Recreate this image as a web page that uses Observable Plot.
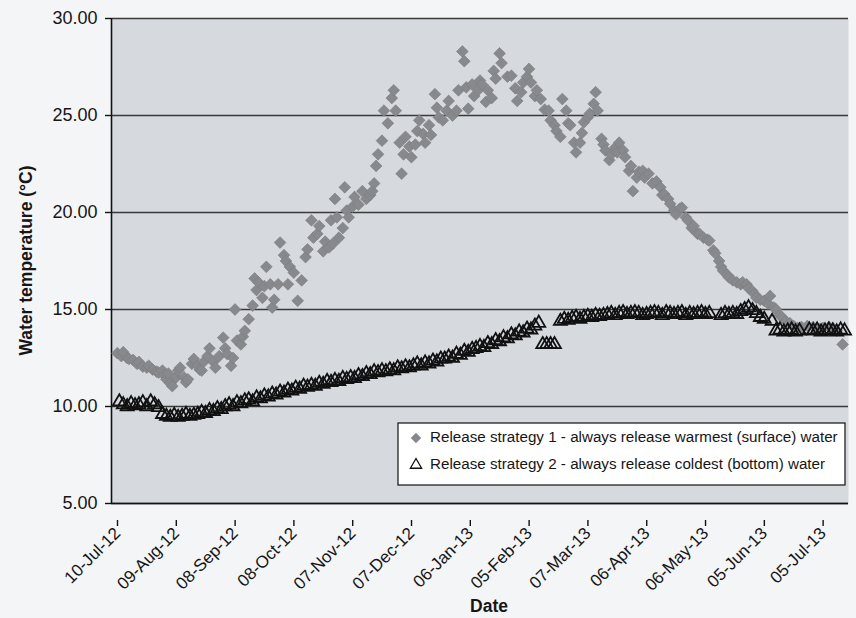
<!DOCTYPE html>
<html><head><meta charset="utf-8">
<script src="https://cdn.jsdelivr.net/npm/d3@7"></script>
<script src="https://cdn.jsdelivr.net/npm/@observablehq/plot@0.6"></script>
<style>
html,body{margin:0;padding:0;background:#f4f5f7;}
#chart{width:856px;height:618px;position:relative;}
</style></head><body><div id="chart"></div>
<script>
// ---------- data ----------
const startDate = "2012-07-10";
const endDate = "2013-07-21";
const tickLabels = ["10-Jul-12","09-Aug-12","08-Sep-12","08-Oct-12","07-Nov-12","07-Dec-12","06-Jan-13","05-Feb-13","07-Mar-13","06-Apr-13","06-May-13","05-Jun-13","05-Jul-13"];
const yTicks = [5, 10, 15, 20, 25, 30];
const seriesNames = [
  "Release strategy 1 - always release warmest (surface) water",
  "Release strategy 2 - always release coldest (bottom) water"
];
const yLabel = "Water temperature (°C)";
const xLabel = "Date";

// Strategy 1 (days after 10-Jul-12, temperature)
const s1Days = [3,5,6,8,9,11,13,14,16,18,19,21,23,24,26,27,28,29,30,31,33,34,35,37,38,39,41,42,44,45,46,47,49,50,52,53,55,57,58,59,61,62,63,64,66,67,68,70,72,73,74,75,77,78,79,81,82,83,85,86,88,89,90,91,93,95,97,99,100,102,103,105,106,108,109,111,112,113,114,115,116,118,119,120,121,123,124,126,128,130,132,133,134,135,136,138,139,141,143,144,145,147,148,149,150,152,153,155,156,157,159,160,162,163,165,166,167,169,171,172,174,176,177,179,180,181,182,184,185,187,188,189,191,192,194,195,196,198,199,202,204,206,207,209,210,212,213,214,216,217,219,221,223,224,226,227,229,230,232,233,234,236,237,239,240,241,243,244,246,247,248,250,251,252,254,255,257,258,259,261,262,264,265,266,268,269,271,272,274,276,278,280,281,282,284,285,287,288,290,291,293,294,296,297,299,300,302,304,305,307,308,310,311,312,314,315,317,319,321,322,324,325,327,328,329,331,333,335,336,338,339,341,342,344,346,348,350,352,355,358,361,363,366,368,370,373];
const s1Temps = [12.75,12.6,12.8,12.5,12.45,12.4,12.2,12.3,12.05,12.0,12.1,11.9,11.8,11.75,11.85,11.6,11.4,11.7,11.2,11.05,11.5,11.85,12.0,11.5,11.25,11.4,12.2,12.45,12.1,11.9,11.85,12.3,12.6,13.0,12.3,12.0,12.6,13.55,13.0,12.7,12.1,12.5,15.0,13.4,13.2,13.6,13.9,14.5,15.2,16.6,16.0,16.4,15.6,16.2,17.2,16.3,15.1,15.5,16.3,18.45,17.8,17.5,16.3,17.2,16.9,15.45,16.5,17.7,18.1,19.6,18.7,18.9,19.3,18.0,18.5,18.2,19.6,18.4,20.7,19.75,18.7,19.2,21.3,20.1,19.75,20.3,20.8,20.4,21.1,20.7,20.9,21.1,21.5,22.4,23.0,23.7,25.25,24.6,25.9,26.3,25.25,23.6,22.0,23.0,23.9,23.4,22.85,23.5,24.2,24.75,24.05,23.6,24.5,24.0,26.1,25.4,24.9,24.75,25.25,25.75,25.0,25.25,26.3,28.3,27.8,26.45,25.35,26.6,26.0,26.3,26.8,26.6,25.7,26.3,25.9,27.3,26.9,28.2,27.7,27.0,27.05,26.4,25.75,26.2,26.7,27.0,27.4,26.7,26.0,26.3,25.85,25.3,25.25,24.75,24.5,24.2,23.9,25.85,25.25,24.6,24.5,23.6,23.1,23.6,24.1,24.65,24.9,25.1,25.6,26.2,25.25,23.8,23.5,23.2,22.7,23.0,23.35,23.1,23.6,23.2,22.85,22.15,22.4,21.1,21.8,22.1,22.15,21.8,22.0,21.5,21.6,21.3,20.9,20.95,20.7,20.45,20.1,19.9,20.2,20.25,19.75,19.6,19.2,19.3,18.9,18.9,18.7,18.6,18.55,18.05,17.9,17.5,17.2,17.0,16.8,16.65,16.5,16.4,16.3,16.4,16.3,16.1,15.95,15.8,15.6,15.5,15.45,15.3,15.7,15.1,15.0,14.7,14.6,14.4,14.3,14.15,14.05,14.1,14.15,14.1,14.0,14.05,14.1,14.05,13.9,13.2];

// Strategy 2 (days after 10-Jul-12, temperature)
const s2Days = [4,6,8,10,12,14,16,18,20,22,24,26,28,30,32,34,36,38,40,42,44,46,48,50,52,54,56,58,60,62,64,66,68,70,72,74,76,78,80,82,84,86,88,90,92,94,96,98,100,102,104,106,108,110,112,114,116,118,120,122,124,126,128,130,132,134,136,138,140,142,144,146,148,150,152,154,156,158,160,162,164,166,168,170,172,174,176,178,180,182,184,186,188,190,192,194,196,198,200,202,204,206,208,210,212,214,216,218,220,222,224,226,229,231,233,235,237,239,241,243,245,247,249,251,253,255,257,259,261,263,265,267,269,271,273,275,277,279,281,283,285,287,289,291,293,295,297,299,301,303,305,311,313,315,317,319,321,323,325,327,329,331,333,337,339,341,343,345,347,349,351,356,358,360,362,364,366,368,370,372,374];
const s2Temps = [10.25,10.1,10.0,10.15,10.05,10.1,10.2,10.0,10.25,10.1,9.95,9.6,9.5,9.45,9.55,9.45,9.5,9.6,9.5,9.55,9.6,9.7,9.65,9.8,9.75,9.9,9.85,10.0,10.1,10.0,10.2,10.15,10.3,10.35,10.25,10.45,10.4,10.55,10.5,10.65,10.6,10.75,10.7,10.85,10.8,10.95,10.9,11.05,11.0,11.1,11.05,11.2,11.15,11.3,11.25,11.35,11.3,11.45,11.4,11.5,11.45,11.6,11.55,11.7,11.65,11.8,11.75,11.85,11.8,11.9,11.85,12.0,11.95,12.05,12.0,12.1,12.2,12.1,12.25,12.2,12.35,12.3,12.45,12.45,12.55,12.5,12.7,12.65,12.85,12.8,12.95,13.0,13.1,13.05,13.25,13.2,13.4,13.35,13.55,13.5,13.7,13.65,13.85,13.8,14.0,13.95,14.15,14.3,13.2,13.2,13.2,13.2,14.4,14.5,14.45,14.55,14.6,14.5,14.6,14.65,14.6,14.7,14.65,14.7,14.75,14.8,14.7,14.8,14.85,14.75,14.8,14.85,14.8,14.7,14.75,14.8,14.85,14.8,14.7,14.85,14.8,14.75,14.8,14.85,14.7,14.8,14.75,14.8,14.85,14.75,14.8,14.7,14.8,14.75,14.8,14.75,14.9,15.0,15.1,14.95,14.8,14.6,14.5,14.4,13.9,13.95,13.85,13.9,13.95,13.85,13.9,13.95,13.9,13.95,13.85,13.9,13.95,13.9,13.85,13.95,13.9,13.9];

// ---------- build ----------
const parseISO = d3.utcParse("%Y-%m-%d");
const parseTick = d3.utcParse("%d-%b-%y");
const t0 = parseISO(startDate);
const t1 = parseISO(endDate);
const tickDates = tickLabels.map(parseTick);
const s1 = s1Days.map((d, i) => ({date: d3.utcDay.offset(t0, d), temp: s1Temps[i]}));
const s2 = s2Days.map((d, i) => ({date: d3.utcDay.offset(t0, d), temp: s2Temps[i]}));

const FONT = "'Liberation Sans', Arial, sans-serif";
const W = 856, H = 618, ML = 111, MT = 18, MR = 8, MB = 115;

const chart = Plot.plot({
  width: W, height: H,
  marginLeft: ML, marginTop: MT, marginRight: MR, marginBottom: MB,
  style: {background: "transparent", fontFamily: FONT, color: "#161616"},
  x: {type: "utc", domain: [t0, t1]},
  y: {domain: [5, 30]},
  marks: [
    Plot.frame({fill: "#d6d9de", stroke: null}),
    Plot.ruleY(yTicks, {stroke: "#3a3a3a", strokeWidth: 1.4}),
    Plot.axisY({ticks: yTicks, tickFormat: d => d.toFixed(2), tickSize: 6, tickPadding: 8, fontSize: 18, label: null, stroke: "#111", strokeWidth: 1.4}),
    Plot.axisX({ticks: tickDates, tickFormat: d3.utcFormat("%d-%b-%y"), tickRotate: -45, tickSize: 6, tickPadding: 4, dx: 6, dy: 17, fontSize: 17, label: null, stroke: "#111", strokeWidth: 1.4}),
    Plot.ruleX([t0], {stroke: "#111", strokeWidth: 1.6}),
    Plot.ruleY([5], {stroke: "#111", strokeWidth: 1.6}),
    Plot.dot(s1, {x: "date", y: "temp", symbol: "diamond2", r: 5.3, fill: "#87898c", stroke: "#7a7c80", strokeWidth: 0.6}),
    Plot.dot(s2, {x: "date", y: "temp", symbol: "triangle", r: 4.8, fill: "none", stroke: "#111", strokeWidth: 1.8})
  ]
});
document.getElementById("chart").appendChild(chart);

// axis titles and legend
const svg = d3.select(chart);
svg.append("text")
  .attr("transform", `translate(27,${MT + (H - MT - MB) / 2}) rotate(-90)`)
  .attr("text-anchor", "middle").attr("dominant-baseline", "middle")
  .attr("font-family", FONT).attr("font-size", 17.5).attr("font-weight", "bold").attr("fill", "#161616")
  .text(yLabel);
svg.append("text")
  .attr("x", 489).attr("y", 612)
  .attr("text-anchor", "middle")
  .attr("font-family", FONT).attr("font-size", 17.5).attr("font-weight", "bold").attr("fill", "#161616")
  .text(xLabel);

const lg = svg.append("g");
lg.append("rect").attr("x", 398).attr("y", 423).attr("width", 447).attr("height", 62)
  .attr("fill", "white").attr("stroke", "#111").attr("stroke-width", 1.2);
const rows = [
  {sym: d3.symbolDiamond2, size: 60, fill: "#87898c", stroke: "#7a7c80", sw: 0.6, y: 438},
  {sym: d3.symbolTriangle, size: 55, fill: "none", stroke: "#111", sw: 1.3, y: 465}
];
rows.forEach((r, i) => {
  lg.append("path").attr("d", d3.symbol(r.sym, r.size)())
    .attr("transform", `translate(416,${r.y})`)
    .attr("fill", r.fill).attr("stroke", r.stroke).attr("stroke-width", r.sw);
  lg.append("text").attr("x", 430).attr("y", r.y).attr("dominant-baseline", "middle")
    .attr("text-anchor", "start")
    .attr("font-family", FONT).attr("font-size", 15.2).attr("fill", "#161616")
    .text(seriesNames[i]);
});
</script></body></html>
